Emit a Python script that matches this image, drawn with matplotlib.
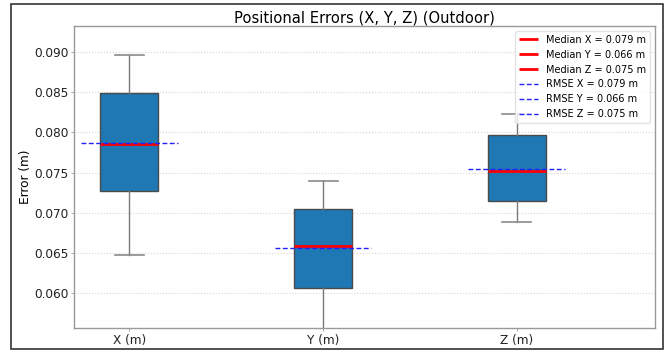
import matplotlib
matplotlib.use('Agg')
import matplotlib.pyplot as plt
from matplotlib.patches import Rectangle

labels = ['X (m)', 'Y (m)', 'Z (m)']
axis_names = ['X', 'Y', 'Z']
whis_lo = [0.0647, 0.0540, 0.0688]
q1 = [0.0727, 0.0607, 0.0714]
medians = [0.0786, 0.0659, 0.0752]
q3 = [0.0849, 0.0705, 0.0797]
whis_hi = [0.0896, 0.0740, 0.0823]
rmse = [0.0787, 0.0656, 0.07548]


def main():
    fig = plt.figure(figsize=(6.69, 3.52), dpi=100)
    ax = fig.add_axes([0.1106, 0.0673, 0.8684, 0.8587])

    stats = []
    for i in range(len(labels)):
        stats.append({'label': labels[i], 'whislo': whis_lo[i], 'q1': q1[i],
                      'med': medians[i], 'q3': q3[i], 'whishi': whis_hi[i],
                      'fliers': []})
    positions = [1, 2, 3]

    bp = ax.bxp(stats, positions=positions, widths=0.3, patch_artist=True,
                boxprops=dict(facecolor='#1f77b4', edgecolor='#4a4a4a', linewidth=1),
                whiskerprops=dict(color='#7a7a7a', linewidth=1),
                capprops=dict(color='#8a8a8a', linewidth=1.2),
                medianprops=dict(color='red', linewidth=2))

    for i, line in enumerate(bp['medians']):
        line.set_label(f'Median {axis_names[i]} = {medians[i]:.3f} m')

    for i, p in enumerate(positions):
        ax.plot([p - 0.25, p + 0.25], [rmse[i], rmse[i]], color='#2020ff', linestyle='--',
                linewidth=1, dashes=(3.5, 1.8), zorder=2.5,
                label=f'RMSE {axis_names[i]} = {rmse[i]:.3f} m')

    ax.set_xlim(0.714, 3.714)
    ax.set_ylim(0.05565, 0.09319)
    ax.set_yticks([0.060, 0.065, 0.070, 0.075, 0.080, 0.085, 0.090])
    ax.yaxis.set_major_formatter(plt.FuncFormatter(lambda x, _: f'{x:.3f}'))
    ax.set_title('Positional Errors (X, Y, Z) (Outdoor)', fontsize=10.6, pad=2.5)
    ax.set_ylabel('Error (m)', fontsize=8.7)
    ax.yaxis.set_label_coords(-0.072, 0.5)
    ax.tick_params(labelsize=8.7, colors='#222222', length=2.5, width=0.6, pad=1.5)
    ax.tick_params(axis='both', color='#999999')
    ax.yaxis.grid(True, linestyle=':', color='#d5d5d5', linewidth=0.8)
    ax.set_axisbelow(True)
    for s in ax.spines.values():
        s.set_color('#999999')
        s.set_linewidth(1)

    ax.legend(loc='upper right', fontsize=7, framealpha=0.8, edgecolor='#dddddd',
              handlelength=2.0, labelspacing=0.5)

    # outer frame around the whole figure
    fig.patches.append(Rectangle((0.0164, 0.0085), 0.9746, 0.9801, transform=fig.transFigure,
                                 fill=False, edgecolor='#333333', linewidth=1.2))

    fig.savefig('out.png', dpi=100)


if __name__ == "__main__":
    main()
